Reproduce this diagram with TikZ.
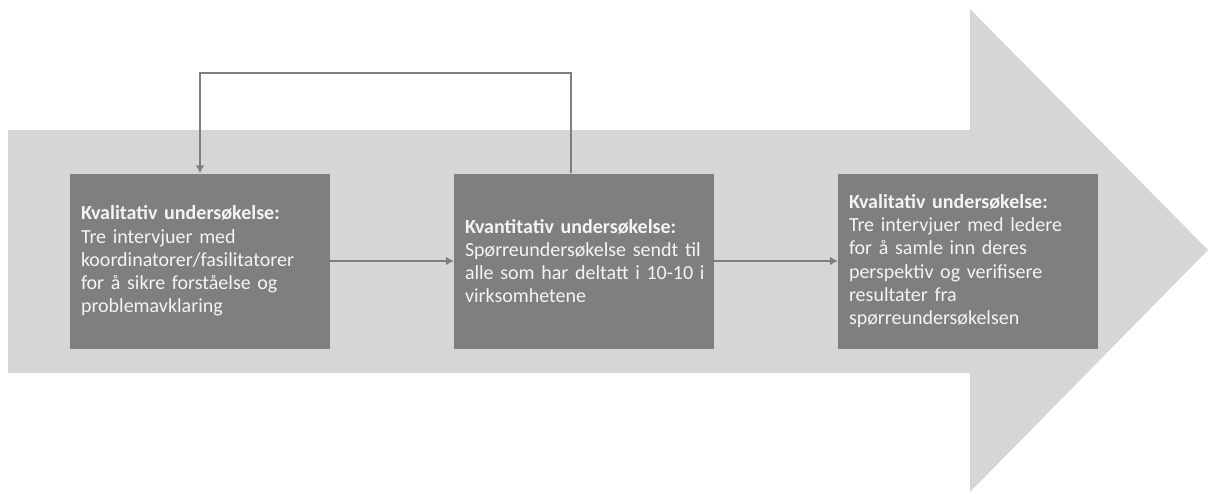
\documentclass[tikz,border=0pt]{standalone}
\usepackage{fontspec}
\setmainfont{Carlito}
\usetikzlibrary{arrows.meta,calc}
\definecolor{arrowgray}{HTML}{D6D6D6}
\definecolor{boxgray}{HTML}{7F7F7F}
\definecolor{textgray}{HTML}{F4F4F4}
\tikzset{
  stepbox/.style={fill=boxgray, minimum width=260pt, minimum height=175pt,
    text width=238pt, inner xsep=11pt, align=left, text=textgray,
    font=\fontsize{20}{23.3}\selectfont},
  flow/.style={draw=boxgray, line width=1.6pt, -{Latex[length=8pt,width=9pt]}}
}
\begin{document}
\begin{tikzpicture}[x=1pt,y=-1pt]
    \useasboundingbox (0,0) rectangle (1208,493);
    \fill[arrowgray] (8,130) -- (970,130) -- (970,9) -- (1208,250) -- (970,492) -- (970,373) -- (8,373) -- cycle;
    \node[stepbox] (kval1) at (200,261) {\textbf{Kvalitativ undersøkelse:}\\ Tre intervjuer med\\ koordinatorer/fasilitatorer\\ for å sikre forståelse og\\ problemavklaring};
    \node[stepbox] (kvant) at (584,261) {\textbf{Kvantitativ undersøkelse:}\\ Spørreundersøkelse sendt til\\ \mbox{alle som har deltatt i 10-10 i}\\ virksomhetene};
    \node[stepbox] (kval2) at (968,261) {\textbf{Kvalitativ undersøkelse:}\\ Tre intervjuer med ledere\\ for å samle inn deres\\ perspektiv og verifisere\\ resultater fra\\ spørreundersøkelsen};
    \coordinate (up) at (571,73);
    \coordinate (down) at (kval1.north |- up);
    \draw[flow] (kval1) -- (kvant);
    \draw[flow] (kvant) -- (kval2);
    \draw[flow] (kvant.north -| up) -- (up) -- (down) -- (kval1.north);
  \end{tikzpicture}
\end{document}
